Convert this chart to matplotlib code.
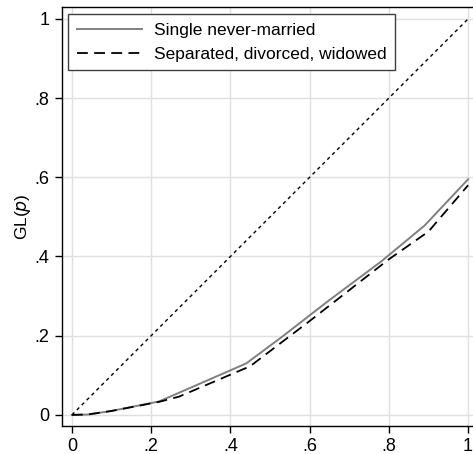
import matplotlib
matplotlib.use("Agg")
import matplotlib.pyplot as plt

# generalized Lorenz curves
p_single = [0, 0.04, 0.10, 0.22, 0.44, 0.53, 0.65, 0.78, 0.89, 1.0]
gl_single = [0, 0.001, 0.010, 0.034, 0.130, 0.197, 0.290, 0.387, 0.478, 0.595]

p_sdw = [0, 0.04, 0.10, 0.22, 0.27, 0.45, 0.60, 0.80, 0.90, 1.0]
gl_sdw = [0, 0.001, 0.010, 0.033, 0.046, 0.123, 0.237, 0.393, 0.463, 0.580]

equality = [0, 1]

ticks = [0, 0.2, 0.4, 0.6, 0.8, 1.0]
tick_labels = ["0", ".2", ".4", ".6", ".8", "1"]

plt.rcParams["font.family"] = ["Liberation Sans", "DejaVu Sans"]

fig = plt.figure(figsize=(4.73, 4.54), dpi=100)
ax = fig.add_axes([62 / 473, 28 / 454, 418 / 473, 419 / 454])

ax.plot(p_single, gl_single, color="#808080", lw=1.4, label="Single never-married")
ax.plot(p_sdw, gl_sdw, color="black", lw=1.3, ls=(0, (6, 3.5)),
        label="Separated, divorced, widowed")
ax.plot(equality, equality, color="black", lw=1.0, ls=(0, (2.5, 2.5)))

ax.set_xlim(-0.025, 1.03)
ax.set_ylim(-0.028, 1.03)
ax.set_xticks(ticks)
ax.set_xticklabels(tick_labels)
ax.set_yticks(ticks)
ax.set_yticklabels(tick_labels)
ax.tick_params(labelsize=13, length=5, width=1, color="black")
ax.tick_params(axis="x", pad=3.5)
ax.tick_params(axis="y", pad=4)
ax.grid(color="#e0e0e0", lw=1)
ax.set_axisbelow(True)
for s in ax.spines.values():
    s.set_color("black")
    s.set_linewidth(1.0)

ax.set_ylabel(r"GL($\it{p}$)", fontsize=12.5, labelpad=1)

leg = ax.legend(loc="upper left", fontsize=12.5, frameon=True, fancybox=False,
                handlelength=3.75, handletextpad=0.7, borderaxespad=0.0,
                borderpad=0.5, labelspacing=0.5,
                bbox_to_anchor=(6 / 418, 1 - 7 / 419))
leg.get_frame().set_edgecolor("#404040")
leg.get_frame().set_linewidth(1.0)
leg.get_frame().set_alpha(1)

fig.savefig("out.png", dpi=100)
